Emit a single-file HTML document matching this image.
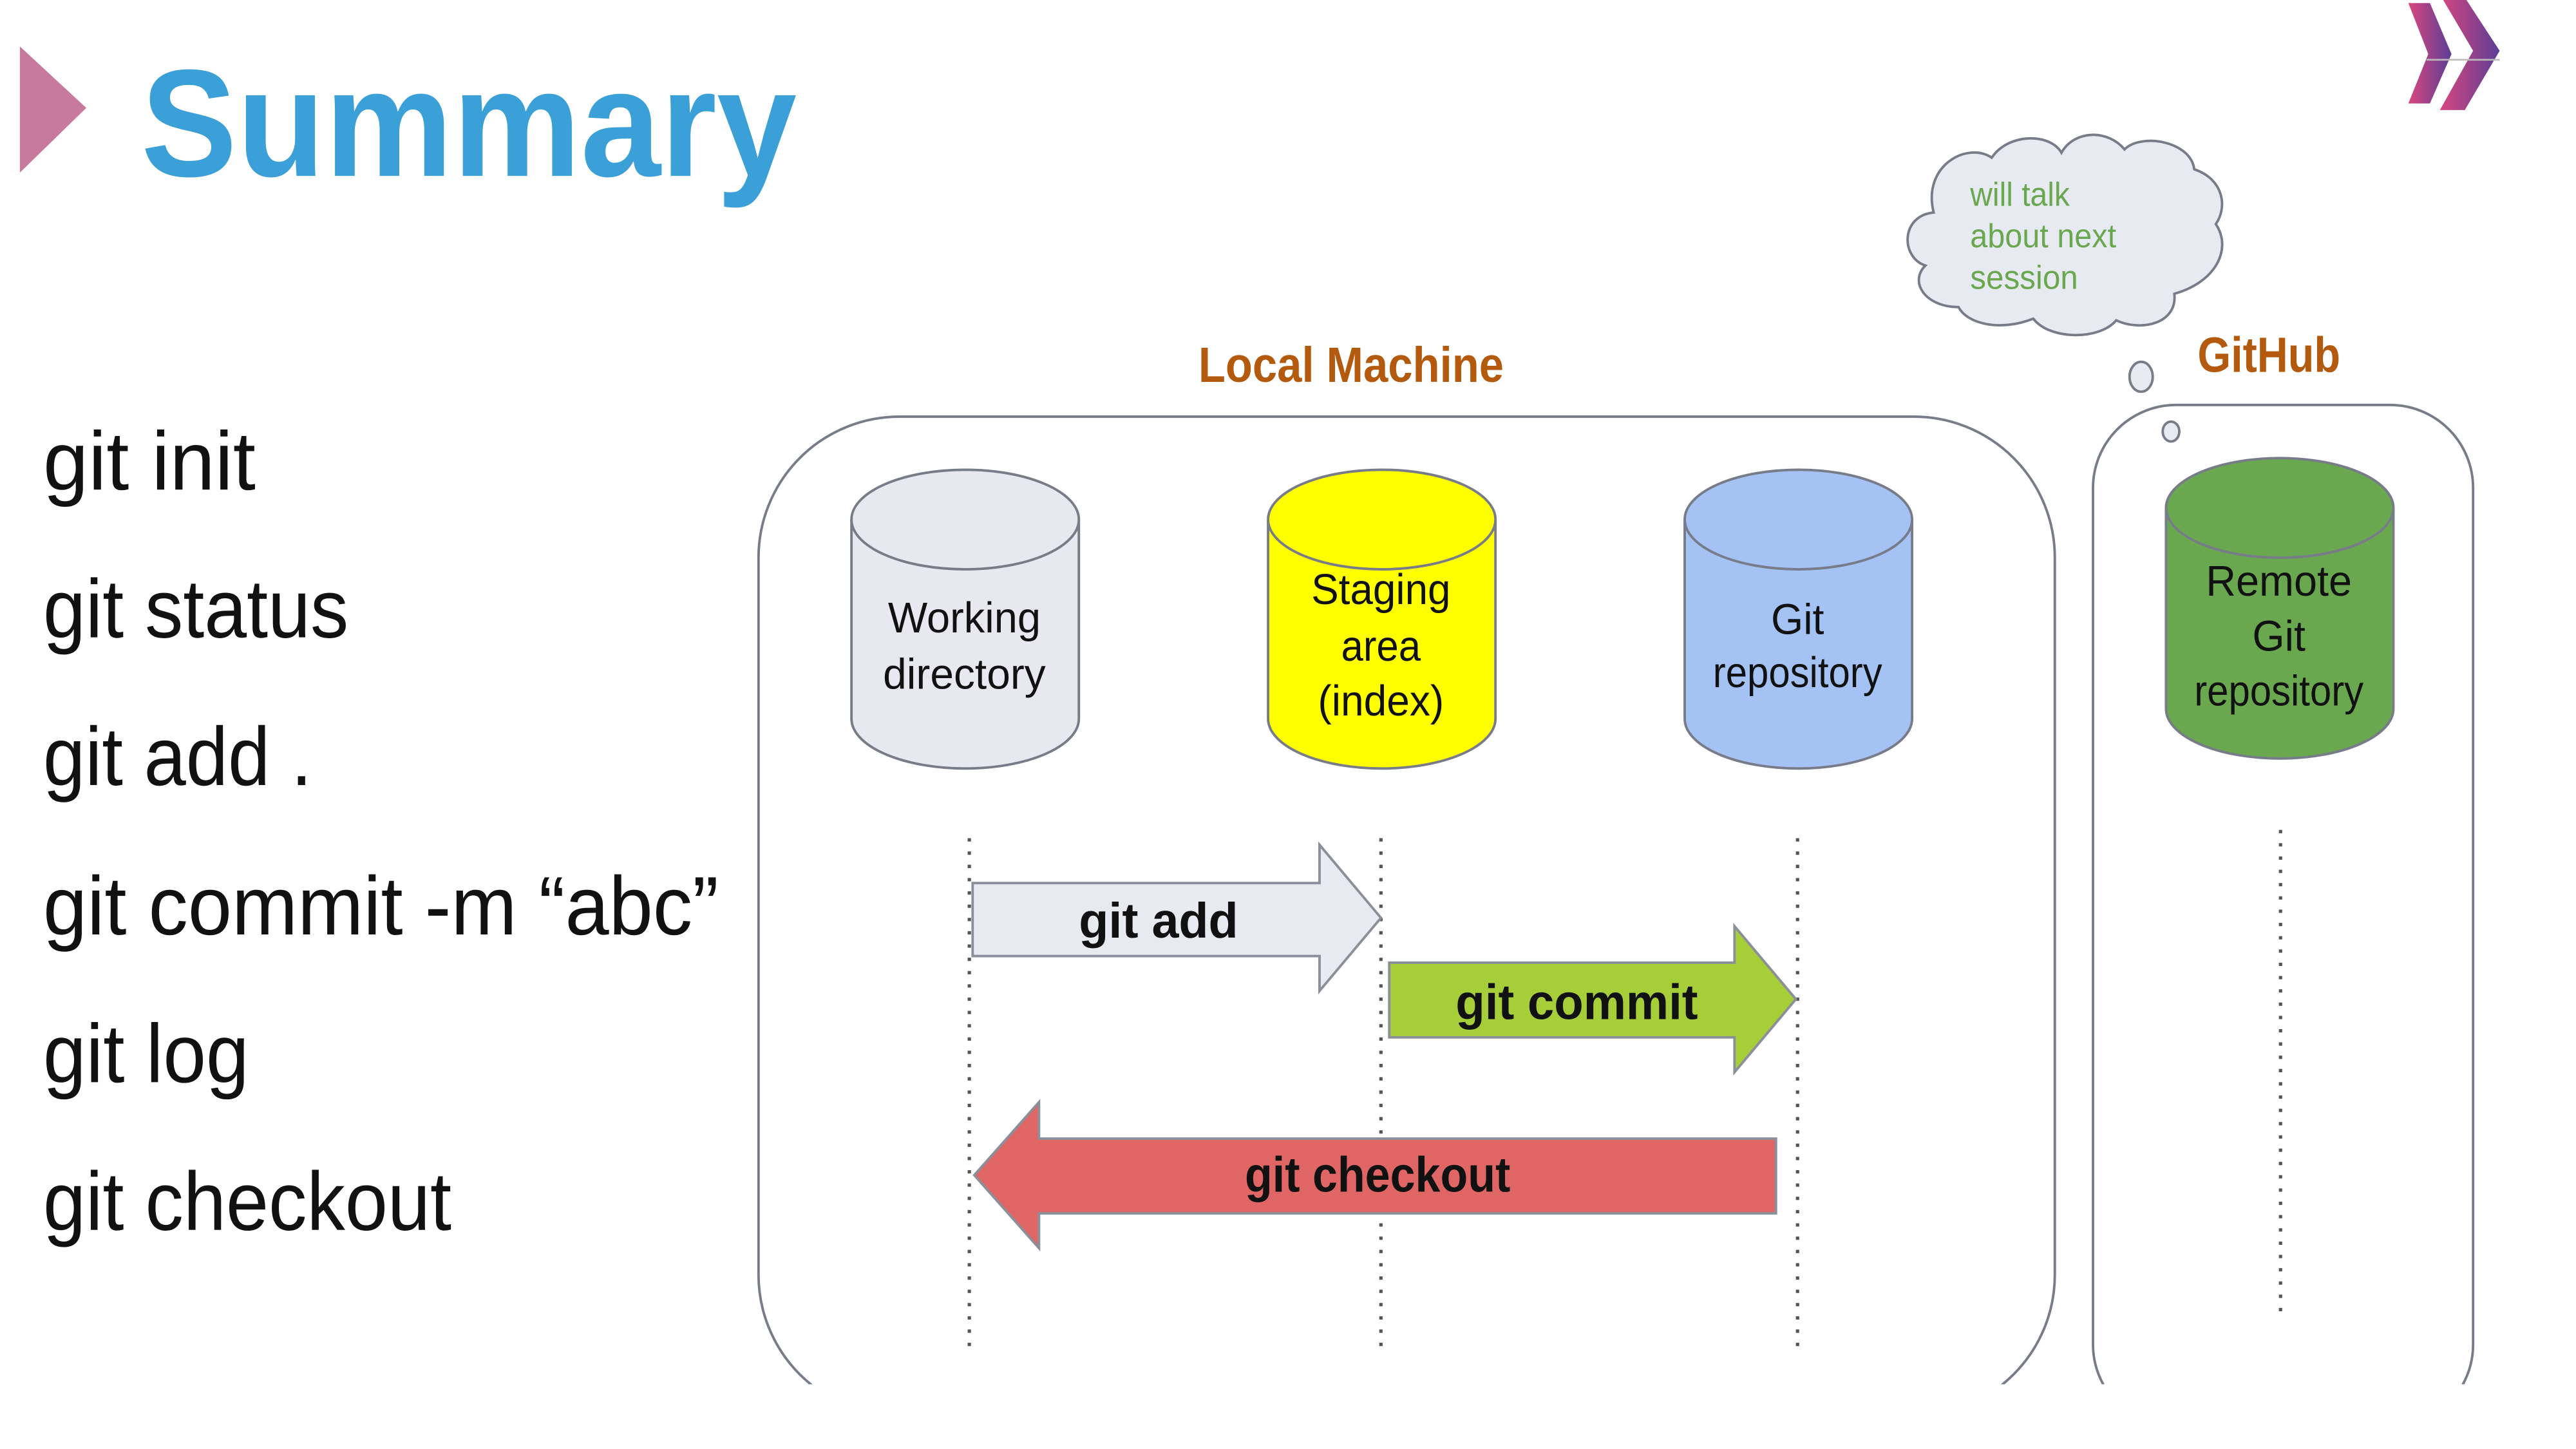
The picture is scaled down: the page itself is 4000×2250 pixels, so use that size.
<!DOCTYPE html>
<html><head><meta charset="utf-8"><style>
html,body{margin:0;padding:0;background:#fff;}
svg{display:block;}
text{font-family:"Liberation Sans",sans-serif;}
</style></head><body>
<svg width="4000" height="2250" viewBox="0 0 1552 873" preserveAspectRatio="none" xmlns="http://www.w3.org/2000/svg">
<defs>
<linearGradient id="cg" x1="0" y1="0" x2="1" y2="0">
<stop offset="0" stop-color="#d9467f"/><stop offset="1" stop-color="#5b3e96"/></linearGradient>
<clipPath id="cl"><rect x="0" y="0" width="1552" height="834"/></clipPath>
</defs>
<rect width="1552" height="873" fill="#fff"/>
<polygon points="12,28 52,65 12,104" fill="#c8799e"/>
<text x="85" y="106" font-size="92" font-weight="bold" fill="#3b9fd8" textLength="395" lengthAdjust="spacingAndGlyphs">Summary</text>
<!-- logo -->
<polygon points="1451,4 1464,4 1477,36 1464,67 1451,67 1463,36" fill="url(#cg)" transform="translate(0,-2) scale(1,0.96)"/>
<polygon points="1472,0 1486,0 1506,36 1485,78 1470,78 1490,36" fill="url(#cg)" transform="scale(1,0.85)"/>
<line x1="1462" y1="36" x2="1506" y2="36" stroke="#bbb" stroke-width="1"/>
<!-- left list -->
<g font-size="50" fill="#111">
<text x="26" y="295" textLength="128" lengthAdjust="spacingAndGlyphs">git init</text>
<text x="26" y="384" textLength="184" lengthAdjust="spacingAndGlyphs">git status</text>
<text x="26" y="473" textLength="162" lengthAdjust="spacingAndGlyphs">git add .</text>
<text x="26" y="563" textLength="407" lengthAdjust="spacingAndGlyphs">git commit -m “abc”</text>
<text x="26" y="652" textLength="124" lengthAdjust="spacingAndGlyphs">git log</text>
<text x="26" y="741" textLength="246" lengthAdjust="spacingAndGlyphs">git checkout</text>
</g>
<!-- cloud -->
<g fill="#e8eaf2" stroke="#777c88" stroke-width="1.5">
<path d="M1165,128 C1158,100 1185,85 1200,95 C1210,80 1235,80 1242,92 C1250,78 1270,78 1280,90 C1290,80 1320,85 1322,102 C1340,108 1342,125 1335,135 C1345,150 1335,170 1310,177 C1312,195 1290,200 1275,193 C1265,205 1235,205 1225,192 C1205,200 1185,195 1180,185 C1160,185 1150,170 1160,160 C1145,155 1145,130 1165,128 Z"/>
<ellipse cx="1290" cy="227" rx="7" ry="9"/>
<ellipse cx="1308" cy="260" rx="5" ry="6"/>
</g>
<g font-size="20" fill="#6aa84f">
<text x="1187" y="124" textLength="60" lengthAdjust="spacingAndGlyphs">will talk</text>
<text x="1187" y="149" textLength="88" lengthAdjust="spacingAndGlyphs">about next</text>
<text x="1187" y="174" textLength="65" lengthAdjust="spacingAndGlyphs">session</text>
</g>
<!-- labels -->
<text x="814" y="230" font-size="30" font-weight="bold" fill="#b35a0e" text-anchor="middle" textLength="184" lengthAdjust="spacingAndGlyphs">Local Machine</text>
<text x="1367" y="224" font-size="30" font-weight="bold" fill="#b35a0e" text-anchor="middle" textLength="86" lengthAdjust="spacingAndGlyphs">GitHub</text>
<!-- boxes -->
<g clip-path="url(#cl)" fill="none" stroke="#777c88" stroke-width="1.5">
<rect x="457" y="251" width="781" height="602" rx="85" ry="85"/>
<rect x="1261" y="244" width="229" height="616" rx="50" ry="50"/>
</g>
<!-- dotted -->
<g stroke="#555" stroke-width="2" stroke-dasharray="2,6">
<line x1="584" y1="505" x2="584" y2="812"/>
<line x1="832" y1="505" x2="832" y2="812"/>
<line x1="1083" y1="505" x2="1083" y2="812"/>
<line x1="1374" y1="500" x2="1374" y2="792"/>
</g>
<!-- cylinders -->
<g stroke="#777c88" stroke-width="1.5">
<path d="M513,313 V433 A68.5,30 0 0 0 650,433 V313" fill="#e8e8f0"/>
<ellipse cx="581.5" cy="313" rx="68.5" ry="30" fill="#e8e8f0"/>
<path d="M764,313 V433 A68.5,30 0 0 0 901,433 V313" fill="#ffff00"/>
<ellipse cx="832.5" cy="313" rx="68.5" ry="30" fill="#ffff00"/>
<path d="M1015,313 V433 A68.5,30 0 0 0 1152,433 V313" fill="#a4c2f4"/>
<ellipse cx="1083.5" cy="313" rx="68.5" ry="30" fill="#a4c2f4"/>
<path d="M1305,306 V427 A68.5,30 0 0 0 1442,427 V306" fill="#6aa84f"/>
<ellipse cx="1373.5" cy="306" rx="68.5" ry="30" fill="#6aa84f"/>
</g>
<g font-size="26" fill="#111" text-anchor="middle">
<text x="581" y="381" textLength="92" lengthAdjust="spacingAndGlyphs">Working</text>
<text x="581" y="415" textLength="98" lengthAdjust="spacingAndGlyphs">directory</text>
<text x="832" y="364" textLength="84" lengthAdjust="spacingAndGlyphs">Staging</text>
<text x="832" y="398" textLength="48" lengthAdjust="spacingAndGlyphs">area</text>
<text x="832" y="431" textLength="76" lengthAdjust="spacingAndGlyphs">(index)</text>
<text x="1083" y="382" textLength="32" lengthAdjust="spacingAndGlyphs">Git</text>
<text x="1083" y="414" textLength="102" lengthAdjust="spacingAndGlyphs">repository</text>
<text x="1373" y="359" textLength="88" lengthAdjust="spacingAndGlyphs">Remote</text>
<text x="1373" y="392" textLength="32" lengthAdjust="spacingAndGlyphs">Git</text>
<text x="1373" y="425" textLength="102" lengthAdjust="spacingAndGlyphs">repository</text>
</g>
<!-- arrows -->
<g stroke="#8a8f9a" stroke-width="1.5">
<polygon points="586,532 795,532 795,509 832,553 795,597 795,576 586,576" fill="#e8eaf2"/>
<polygon points="837,580 1045,580 1045,558 1082,602 1045,646 1045,625 837,625" fill="#a6ce39"/>
<polygon points="1070,686 626,686 626,664 587,708 626,752 626,731 1070,731" fill="#e06666"/>
</g>
<g font-size="30" font-weight="bold" fill="#111" text-anchor="middle">
<text x="698" y="565" textLength="96" lengthAdjust="spacingAndGlyphs">git add</text>
<text x="950" y="614" textLength="146" lengthAdjust="spacingAndGlyphs">git commit</text>
<text x="830" y="718" textLength="160" lengthAdjust="spacingAndGlyphs">git checkout</text>
</g>
</svg>
</body></html>
